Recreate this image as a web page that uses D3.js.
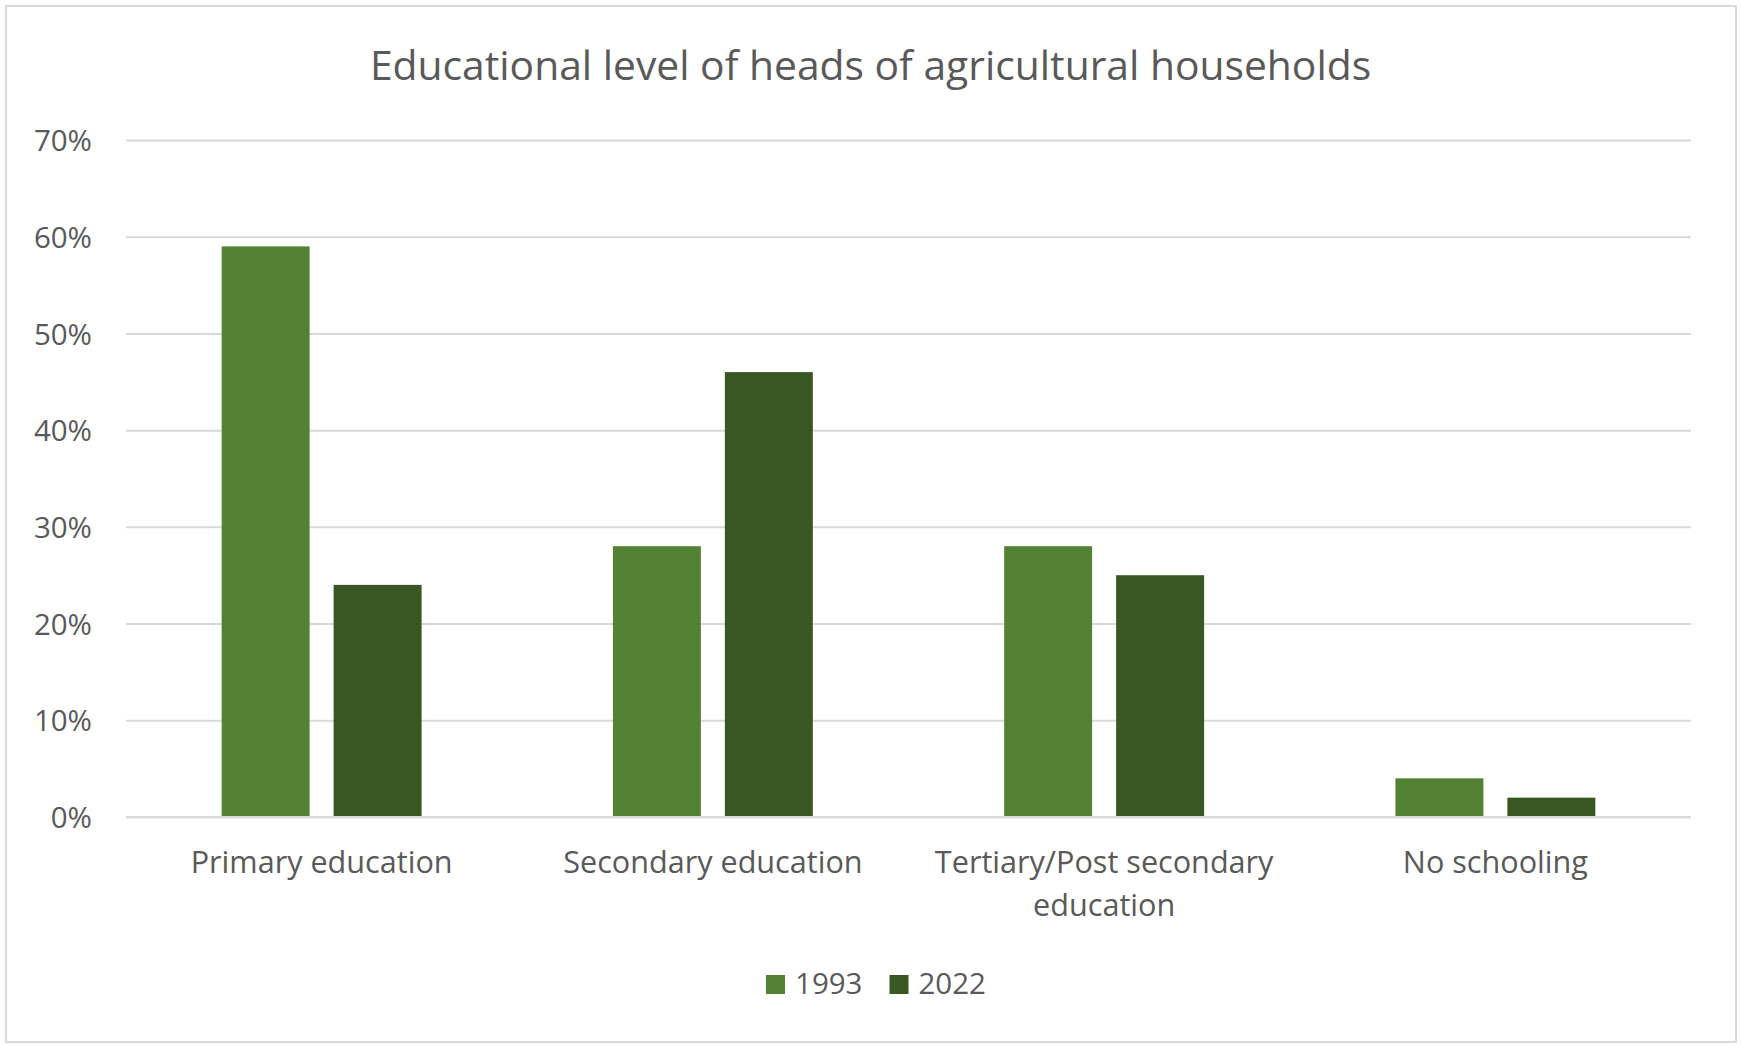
<!DOCTYPE html>
<html>
<head>
<meta charset="utf-8">
<script src="https://cdn.jsdelivr.net/npm/d3@7"></script>
<style>
  html, body { margin: 0; padding: 0; background: #fff; }
  svg { display: block; font-family: "Open Sans", sans-serif; }
</style>
</head>
<body>
<svg width="1741" height="1046"></svg>
<script>
// chart data
var categories = ["Primary education", "Secondary education", "Tertiary/Post secondary education", "No schooling"];
var seriesNames = ["1993", "2022"];
var values1993 = [59, 28, 28, 4];
var values2022 = [24, 46, 25, 2];
var yTicks = [0, 10, 20, 30, 40, 50, 60, 70];
var colors = ["#548235", "#385723"];

var svg = d3.select("svg"),
    W = +svg.attr("width"),
    H = +svg.attr("height"),
    margin = {top: 140, right: 50, bottom: 229, left: 126},
    width = W - margin.left - margin.right,
    height = H - margin.top - margin.bottom,
    textColor = "#595959",
    gridColor = "#d9d9d9";

// outer frame
svg.append("rect")
    .attr("x", 6).attr("y", 6)
    .attr("width", W - 11).attr("height", H - 10)
    .attr("fill", "#fff")
    .attr("stroke", gridColor)
    .attr("stroke-width", 2);

// title
svg.append("text")
    .attr("x", W / 2)
    .attr("y", 80)
    .attr("text-anchor", "middle")
    .attr("fill", textColor)
    .style("font-size", "40.8px")
    .text("Educational level of heads of agricultural households");

var g = svg.append("g").attr("transform", "translate(" + margin.left + "," + margin.top + ")");

var x0 = d3.scaleBand().domain(categories).range([0, width]).padding(0);
var groupW = x0.bandwidth() * 0.511;
var x1 = d3.scaleBand().domain(seriesNames).range([0, groupW]).paddingInner(0.2143);
var y = d3.scaleLinear().domain([0, 70]).range([height, 0]);

// gridlines
g.append("g")
    .attr("class", "grid")
    .call(d3.axisLeft(y).tickValues(yTicks).tickSizeInner(-width).tickSizeOuter(0).tickFormat(""))
    .call(function(s) {
        s.select(".domain").remove();
        s.selectAll("line").attr("stroke", gridColor).attr("stroke-width", 2);
    });

// y tick labels
g.append("g")
    .call(d3.axisLeft(y).tickValues(yTicks).tickSize(0).tickPadding(34).tickFormat(function(d) { return d + "%"; }))
    .call(function(s) {
        s.select(".domain").remove();
        s.selectAll("text")
            .attr("fill", textColor)
            .attr("dy", "0.36em")
            .style("font-size", "29.5px")
            .style("font-family", "'Open Sans', sans-serif");
    });

// bars
var rows = categories.map(function(c, i) {
    return {cat: c, vals: [values1993[i], values2022[i]]};
});

var grp = g.selectAll(".cat")
    .data(rows)
    .enter().append("g")
    .attr("class", "cat")
    .attr("transform", function(d) {
        return "translate(" + (x0(d.cat) + (x0.bandwidth() - groupW) / 2) + ",0)";
    });

grp.selectAll("rect")
    .data(function(d) { return d.vals.map(function(v, j) { return {s: seriesNames[j], v: v, j: j}; }); })
    .enter().append("rect")
    .attr("x", function(d) { return x1(d.s); })
    .attr("width", x1.bandwidth())
    .attr("y", function(d) { return y(d.v); })
    .attr("height", function(d) { return y(0) - y(d.v); })
    .attr("fill", function(d) { return colors[d.j]; });

// baseline drawn over bars
g.append("line")
    .attr("x1", 0).attr("x2", width)
    .attr("y1", y(0)).attr("y2", y(0))
    .attr("stroke", gridColor).attr("stroke-width", 2);

// category labels (wrap the long one like Excel does)
var catLines = {
    "Tertiary/Post secondary education": ["Tertiary/Post secondary", "education"]
};
grp.append("text")
    .attr("x", (groupW) / 2)
    .attr("y", height + 56)
    .attr("text-anchor", "middle")
    .attr("fill", textColor)
    .style("font-size", "30.6px")
    .each(function(d) {
        var lines = catLines[d.cat] || [d.cat];
        var t = d3.select(this);
        lines.forEach(function(l, k) {
            t.append("tspan")
                .attr("x", groupW / 2)
                .attr("dy", k === 0 ? 0 : 43)
                .text(l);
        });
    });

// legend
var legend = svg.append("g");
var items = legend.selectAll("g")
    .data(seriesNames)
    .enter().append("g");
items.append("rect")
    .attr("width", 19).attr("height", 19)
    .attr("y", 975)
    .attr("fill", function(d, i) { return colors[i]; });
items.append("text")
    .attr("x", 29)
    .attr("y", 994)
    .attr("fill", textColor)
    .style("font-size", "29.5px")
    .text(function(d) { return d; });

var xPos = 0;
items.each(function() {
    var w = this.getBBox().width;
    d3.select(this).attr("transform", "translate(" + xPos + ",0)");
    xPos += w + 27;
});
var totalW = xPos - 27;
legend.attr("transform", "translate(" + (876 - totalW / 2) + ",0)");
</script>
</body>
</html>
